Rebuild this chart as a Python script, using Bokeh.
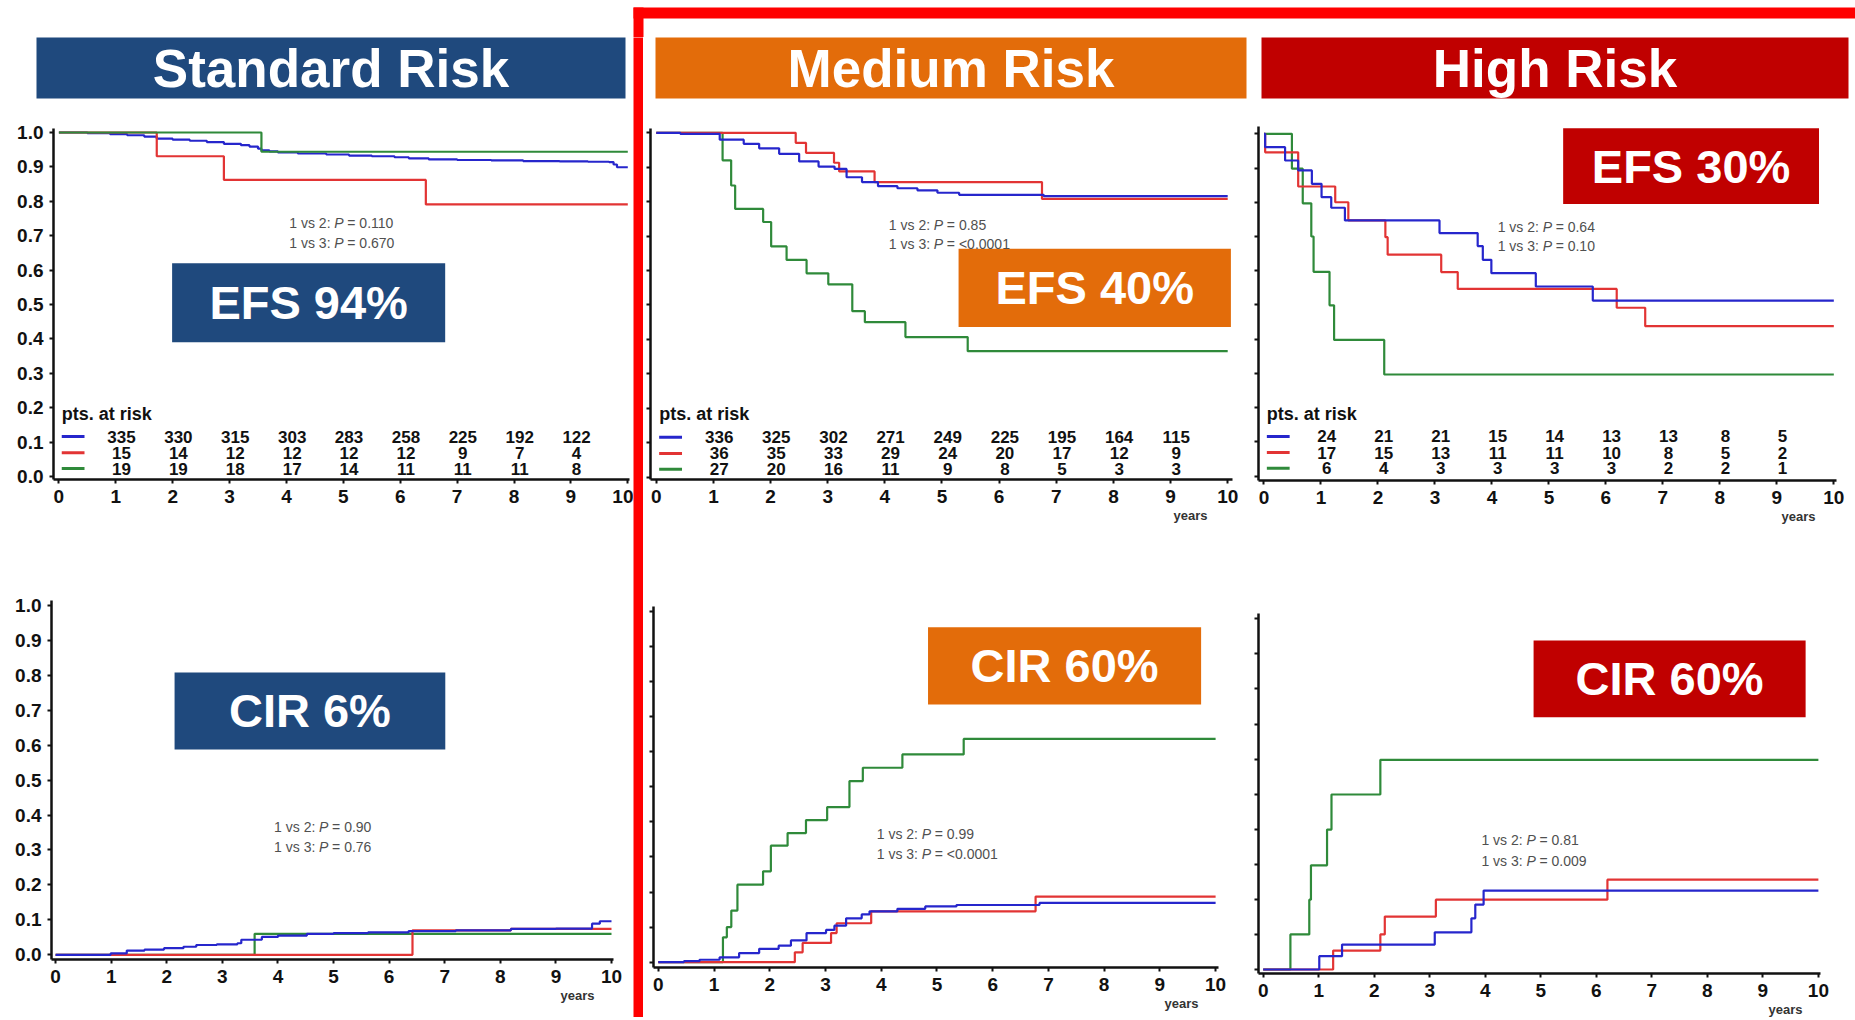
from bokeh.plotting import figure
from bokeh.layouts import row, column
from bokeh.models import (Range1d, FixedTicker, PrintfTickFormatter, Label, ColumnDataSource, Title,
                          CustomLabelingPolicy)
from bokeh.core.properties import value
from bokeh.embed import file_html
from bokeh.resources import INLINE

# ---------------- data ----------------
risk_groups = ["Standard Risk", "Medium Risk", "High Risk"]
efs_summary = ["EFS 94%", "EFS 40%", "EFS 30%"]
cir_summary = ["CIR 6%", "CIR 60%", "CIR 60%"]
x_ticks = list(range(0, 11))
y_ticks = [0.0, 0.1, 0.2, 0.3, 0.4, 0.5, 0.6, 0.7, 0.8, 0.9, 1.0]
at_risk_years = [1, 2, 3, 4, 5, 6, 7, 8, 9]

# Event-free survival, standard risk (time in years, probability)
efs_std_blue_t = [0, 0.5, 0.9, 1.2, 1.5, 1.72, 2.0, 2.3, 2.6, 2.9, 3.2, 3.35, 3.5, 3.56, 3.7, 3.85,
                  4.2, 4.7, 5.1, 5.5, 5.9, 6.15, 6.5, 7.0, 7.6, 8.16, 8.8, 9.3, 9.67, 9.75, 9.81, 10.0]
efs_std_blue_v = [1.0, 0.998, 0.995, 0.992, 0.988, 0.982, 0.979, 0.976, 0.972, 0.967, 0.963, 0.959, 0.953,
                  0.948, 0.945, 0.942, 0.939, 0.936, 0.933, 0.931, 0.928, 0.925, 0.922, 0.920, 0.919, 0.917,
                  0.916, 0.915, 0.914, 0.907, 0.899, 0.899]
efs_std_red_t = [0, 1.72, 2.90, 6.45, 10.0]
efs_std_red_v = [1.0, 0.931, 0.862, 0.791, 0.791]
efs_std_green_t = [0, 3.56, 10.0]
efs_std_green_v = [1.0, 0.944, 0.944]

# Event-free survival, medium risk
efs_med_blue_t = [0, 0.42, 1.11, 1.53, 1.8, 2.15, 2.5, 2.84, 3.12, 3.33, 3.6, 3.88, 4.22, 4.57, 4.92, 5.3, 6.78, 10.0]
efs_med_blue_v = [1.0, 0.997, 0.980, 0.968, 0.955, 0.939, 0.917, 0.902, 0.895, 0.871, 0.857, 0.845, 0.839,
                  0.833, 0.826, 0.820, 0.816, 0.816]
efs_med_red_t = [0, 2.44, 2.62, 3.11, 3.20, 3.82, 6.75, 10.0]
efs_med_red_v = [1.0, 0.971, 0.942, 0.913, 0.888, 0.857, 0.808, 0.808]
efs_med_green_t = [0, 1.16, 1.31, 1.38, 1.87, 2.01, 2.28, 2.63, 3.01, 3.43, 3.65, 4.36, 5.45, 10.0]
efs_med_green_v = [1.0, 0.920, 0.847, 0.779, 0.741, 0.670, 0.631, 0.592, 0.560, 0.482, 0.450, 0.407, 0.366, 0.366]

# Event-free survival, high risk
efs_high_blue_t = [0, 0.02, 0.37, 0.60, 0.84, 1.01, 1.18, 1.42, 3.08, 3.75, 3.84, 3.99, 4.77, 5.77, 10.0]
efs_high_blue_v = [1.0, 0.961, 0.922, 0.893, 0.854, 0.815, 0.784, 0.747, 0.710, 0.672, 0.632, 0.593, 0.554, 0.513, 0.513]
efs_high_red_t = [0, 0.02, 0.60, 1.25, 1.48, 2.13, 2.17, 3.11, 3.40, 6.19, 6.69, 10.0]
efs_high_red_v = [1.0, 0.946, 0.846, 0.800, 0.747, 0.698, 0.647, 0.596, 0.547, 0.492, 0.438, 0.438]
efs_high_green_t = [0, 0.49, 0.68, 0.83, 0.87, 1.15, 1.23, 2.11, 10.0]
efs_high_green_v = [1.0, 0.898, 0.797, 0.700, 0.597, 0.499, 0.398, 0.297, 0.297]

# Cumulative incidence of relapse, standard risk
cir_std_blue_t = [0, 0.99, 1.28, 1.6, 1.95, 2.3, 2.53, 2.9, 3.27, 3.34, 3.71, 4.0, 4.52, 5.0, 5.62, 6.35,
                  7.2, 8.19, 9.0, 9.65, 9.79, 10.0]
cir_std_blue_v = [0.0, 0.004, 0.012, 0.015, 0.019, 0.023, 0.028, 0.030, 0.033, 0.043, 0.051, 0.055, 0.060,
                  0.062, 0.064, 0.068, 0.070, 0.074, 0.075, 0.089, 0.096, 0.096]
cir_std_red_t = [0, 6.42, 8.19, 10.0]
cir_std_red_v = [0.0, 0.070, 0.074, 0.074]
cir_std_green_t = [0, 3.58, 10.0]
cir_std_green_v = [0.0, 0.060, 0.060]

# Cumulative incidence of relapse, medium risk
cir_med_blue_t = [0, 0.46, 0.74, 1.1, 1.45, 1.81, 2.16, 2.38, 2.66, 3.01, 3.16, 3.37, 3.65, 3.79, 4.29,
                  4.79, 5.35, 6.84, 10.0]
cir_med_blue_v = [0.0, 0.003, 0.007, 0.014, 0.026, 0.038, 0.047, 0.062, 0.083, 0.092, 0.104, 0.125, 0.136,
                  0.145, 0.152, 0.159, 0.163, 0.169, 0.169]
cir_med_red_t = [0, 2.45, 2.59, 3.10, 3.20, 3.82, 6.77, 10.0]
cir_med_red_v = [0.0, 0.028, 0.055, 0.083, 0.111, 0.145, 0.187, 0.187]
cir_med_green_t = [0, 1.16, 1.23, 1.31, 1.42, 1.88, 2.02, 2.32, 2.65, 3.03, 3.43, 3.67, 4.38, 5.48, 10.0]
cir_med_green_v = [0.0, 0.071, 0.100, 0.147, 0.221, 0.259, 0.332, 0.368, 0.405, 0.442, 0.516, 0.554, 0.592,
                   0.636, 0.636]

# Cumulative incidence of relapse, high risk
cir_high_blue_t = [0, 1.01, 1.42, 3.09, 3.75, 3.82, 3.97, 10.0]
cir_high_blue_v = [0.0, 0.038, 0.071, 0.106, 0.146, 0.185, 0.225, 0.225]
cir_high_red_t = [0, 1.26, 2.11, 2.19, 3.11, 6.20, 10.0]
cir_high_red_v = [0.0, 0.054, 0.100, 0.151, 0.199, 0.256, 0.256]
cir_high_green_t = [0, 0.49, 0.83, 0.86, 1.15, 1.23, 2.11, 10.0]
cir_high_green_v = [0.0, 0.100, 0.199, 0.297, 0.399, 0.499, 0.598, 0.598]

# Patients at risk at years 1..9 (groups 1, 2, 3)
at_risk_std_1 = [335, 330, 315, 303, 283, 258, 225, 192, 122]
at_risk_std_2 = [15, 14, 12, 12, 12, 12, 9, 7, 4]
at_risk_std_3 = [19, 19, 18, 17, 14, 11, 11, 11, 8]
at_risk_med_1 = [336, 325, 302, 271, 249, 225, 195, 164, 115]
at_risk_med_2 = [36, 35, 33, 29, 24, 20, 17, 12, 9]
at_risk_med_3 = [27, 20, 16, 11, 9, 8, 5, 3, 3]
at_risk_high_1 = [24, 21, 21, 15, 14, 13, 13, 8, 5]
at_risk_high_2 = [17, 15, 13, 11, 11, 10, 8, 5, 2]
at_risk_high_3 = [6, 4, 3, 3, 3, 3, 2, 2, 1]

# Log-rank p-values (1 vs 2, 1 vs 3)
efs_std_p = ["0.110", "0.670"]
efs_med_p = ["0.85", "<0.0001"]
efs_high_p = ["0.64", "0.10"]
cir_std_p = ["0.90", "0.76"]
cir_med_p = ["0.99", "<0.0001"]
cir_high_p = ["0.81", "0.009"]

# ---------------- styles ----------------
FONT = "Liberation Sans"
C1, C2, C3 = "#2626cc", "#e23434", "#2f8a3a"
NAVY, ORANGE, CRIMSON, FRAME_RED = "#1f497d", "#e36c0a", "#c00000", "#ff0000"
ROWS_Y = [0.116, 0.069, 0.023]
HEAD_Y = 0.183

# y tick labels are only shown on the left-hand column
NO_LABELS = CustomLabelingPolicy(code="""
for (const i of indices)
  indices.unset(i)
""")


def base_fig(width, height, borders, **kw):
    left, right, top, bottom = borders
    p = figure(width=width, height=height, output_backend="svg", toolbar_location=None, title=None,
               min_border_left=left, min_border_right=right, min_border_top=top,
               min_border_bottom=bottom, frame_align=False, **kw)
    p.grid.visible = False
    p.outline_line_color = None
    p.background_fill_color = "white"
    p.border_fill_color = "white"
    return p


def solid(width, height, color):
    p = base_fig(width, height, (0, 0, 0, 0), x_axis_location=None, y_axis_location=None)
    p.background_fill_color = color
    p.border_fill_color = color
    return p


def header(width, borders, text, color):
    p = base_fig(width, 63, borders, x_range=Range1d(0, 1), y_range=Range1d(0, 1),
                 x_axis_location=None, y_axis_location=None)
    p.background_fill_color = color
    p.add_layout(Label(x=0.5, y=0.5, text=text, text_align="center", text_baseline="middle",
                       text_color="white", text_font=FONT, text_font_style="bold",
                       text_font_size="53px"))
    return p


def panel(width, height, borders, xr, yr, ylabels):
    p = base_fig(width, height, borders, x_range=Range1d(*xr), y_range=Range1d(*yr))
    for ax in (p.xaxis[0], p.yaxis[0]):
        ax.axis_line_width = 2.5
        ax.axis_line_color = "#111111"
        ax.major_tick_line_width = 2
        ax.major_tick_line_color = "#111111"
        ax.major_tick_in = 0
        ax.major_tick_out = 4
        ax.minor_tick_line_color = None
        ax.major_label_text_font = FONT
        ax.major_label_text_font_style = "bold"
        ax.major_label_text_font_size = "19px"
        ax.major_label_text_color = "#111111"
    p.xaxis.ticker = FixedTicker(ticks=x_ticks)
    p.xaxis.major_label_standoff = 6
    p.yaxis.ticker = FixedTicker(ticks=y_ticks)
    if ylabels:
        p.yaxis.formatter = PrintfTickFormatter(format="%.1f")
        p.yaxis.major_label_standoff = 6
    else:
        p.yaxis.major_label_policy = NO_LABELS
        p.yaxis.major_label_text_font_size = "0px"
        p.yaxis.major_label_standoff = 0
    return p


def curves(p, series):
    for t, v, color in series:
        p.step(x=t, y=v, mode="after", line_color=color, line_width=2.2)


def pvalues(p, x, y1, y2, pv):
    for y, lab, val in ((y1, "1 vs 2:", pv[0]), (y2, "1 vs 3:", pv[1])):
        common = dict(x=x, y=y, text_baseline="middle", text_align="left", text_font=FONT,
                      text_font_size="14px", text_color="#505050")
        p.add_layout(Label(text=lab, x_offset=0, **common))
        p.add_layout(Label(text="P", x_offset=45, text_font_style="italic", **common))
        p.add_layout(Label(text="= " + val, x_offset=58, **common))


def summary_box(p, left, right, top, bottom, text, color):
    p.quad(left=[left], right=[right], top=[top], bottom=[bottom], fill_color=color, line_color=None)
    p.add_layout(Label(x=(left + right) / 2, y=(top + bottom) / 2, text=text, text_align="center",
                       text_baseline="middle", text_color="white", text_font=FONT,
                       text_font_style="bold", text_font_size="47px"))


def years_label(p, offset):
    p.add_layout(Title(text="years", align="right", offset=offset, standoff=0,
                       text_font=FONT, text_font_style="bold", text_font_size="13px",
                       text_color="#333333"), "below")


def at_risk(p, groups):
    p.text(x=[0.05], y=[HEAD_Y], text=["pts. at risk"], text_font=value(FONT), text_font_style="bold",
           text_font_size="18px", text_align="left", text_baseline="middle", text_color="#111111")
    for (counts, color), ry in zip(groups, ROWS_Y):
        p.segment(x0=[0.05], y0=[ry], x1=[0.45], y1=[ry], line_color=color, line_width=3)
        src = ColumnDataSource(dict(x=[yr + 0.1 for yr in at_risk_years], y=[ry] * len(counts),
                                    t=[str(c) for c in counts]))
        p.text(x="x", y="y", text="t", source=src, text_font=value(FONT), text_font_style="bold",
               text_font_size="17px", text_align="center", text_baseline="middle",
               text_color="#111111")


# ---------------- standard risk column ----------------
hA = header(633, (36, 8, 0, 2), risk_groups[0], NAVY)

pA1 = panel(633, 445, (53, 4, 28, 66), (-0.095, 10.03), (-0.0087, 1.0116), True)
curves(pA1, [(efs_std_blue_t, efs_std_blue_v, C1), (efs_std_red_t, efs_std_red_v, C2),
             (efs_std_green_t, efs_std_green_v, C3)])
at_risk(pA1, [(at_risk_std_1, C1), (at_risk_std_2, C2), (at_risk_std_3, C3)])
pvalues(pA1, 4.05, 0.736, 0.679, efs_std_p)
summary_box(pA1, 1.99, 6.79, 0.620, 0.390, efs_summary[0], NAVY)

pA2 = panel(633, 472, (51, 20, 55, 58), (-0.074, 10.036), (-0.0135, 1.0143), True)
curves(pA2, [(cir_std_green_t, cir_std_green_v, C3), (cir_std_red_t, cir_std_red_v, C2),
             (cir_std_blue_t, cir_std_blue_v, C1)])
pvalues(pA2, 3.93, 0.367, 0.308, cir_std_p)
summary_box(pA2, 2.14, 7.01, 0.808, 0.588, cir_summary[0], NAVY)
years_label(pA2, 19)

# ---------------- medium risk column ----------------
hB = header(607, (12, 4, 0, 2), risk_groups[1], ORANGE)

pB1 = panel(607, 445, (7, 18, 28, 66), (-0.1015, 10.084), (-0.0067, 1.0125), False)
curves(pB1, [(efs_med_green_t, efs_med_green_v, C3), (efs_med_red_t, efs_med_red_v, C2),
             (efs_med_blue_t, efs_med_blue_v, C1)])
at_risk(pB1, [(at_risk_med_1, C1), (at_risk_med_2, C2), (at_risk_med_3, C3)])
pvalues(pB1, 4.07, 0.731, 0.676, efs_med_p)
summary_box(pB1, 5.29, 10.056, 0.663, 0.436, efs_summary[1], ORANGE)
years_label(pB1, 25)

pB2 = panel(607, 472, (10, 32, 61, 50), (-0.086, 10.052), (-0.0151, 1.0134), False)
curves(pB2, [(cir_med_green_t, cir_med_green_v, C3), (cir_med_red_t, cir_med_red_v, C2),
             (cir_med_blue_t, cir_med_blue_v, C1)])
pvalues(pB2, 3.92, 0.366, 0.309, cir_med_p)
summary_box(pB2, 4.84, 9.74, 0.954, 0.734, cir_summary[1], ORANGE)
years_label(pB2, 20)

# ---------------- high risk column ----------------
hC = header(605, (11, 7, 0, 2), risk_groups[2], CRIMSON)

pC1 = panel(605, 445, (8, 19, 26, 65), (-0.0965, 10.047), (-0.0126, 1.0213), False)
curves(pC1, [(efs_high_green_t, efs_high_green_v, C3), (efs_high_red_t, efs_high_red_v, C2),
             (efs_high_blue_t, efs_high_blue_v, C1)])
at_risk(pC1, [(at_risk_high_1, C1), (at_risk_high_2, C2), (at_risk_high_3, C3)])
pvalues(pC1, 4.10, 0.727, 0.672, efs_high_p)
summary_box(pC1, 5.25, 9.74, 1.016, 0.795, efs_summary[2], CRIMSON)
years_label(pC1, 21)

pC2 = panel(605, 472, (8, 35, 68, 44), (-0.0847, 10.038), (-0.0114, 1.0151), False)
curves(pC2, [(cir_high_green_t, cir_high_green_v, C3), (cir_high_red_t, cir_high_red_v, C2),
             (cir_high_blue_t, cir_high_blue_v, C1)])
pvalues(pC2, 3.93, 0.368, 0.309, cir_high_p)
summary_box(pC2, 4.87, 9.77, 0.938, 0.719, cir_summary[2], CRIMSON)
years_label(pC2, 18)

# ---------------- red frame around medium/high risk ----------------
top_strip = base_fig(1855, 37, (0, 0, 0, 0), x_range=Range1d(0, 1855), y_range=Range1d(37, 0),
                     x_axis_location=None, y_axis_location=None)
top_strip.quad(left=[633, 633], right=[1855, 643], top=[7, 7], bottom=[18, 37],
               fill_color=FRAME_RED, line_color=None)

bottom_strip = base_fig(1855, 3, (0, 0, 0, 0), x_range=Range1d(0, 1855), y_range=Range1d(0, 1),
                        x_axis_location=None, y_axis_location=None)
bottom_strip.quad(left=[633], right=[1855], top=[1], bottom=[0], fill_color="#ff5050", line_color=None)

red_bar = solid(10, 980, FRAME_RED)

layout = column(
    top_strip,
    row(column(hA, pA1, pA2), red_bar, column(hB, pB1, pB2), column(hC, pC1, pC2)),
    bottom_strip,
)

open("out.html", "w").write(file_html(layout, INLINE))
